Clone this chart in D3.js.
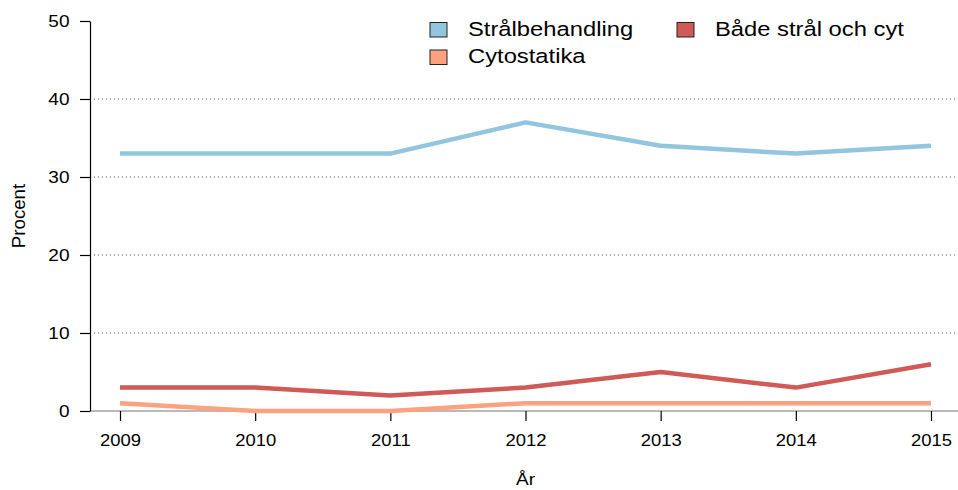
<!DOCTYPE html>
<html>
<head>
<meta charset="utf-8">
<script src="https://cdn.jsdelivr.net/npm/d3@7"></script>
<style>
body { margin: 0; background: #fff; }
svg { font-family: "Liberation Sans", Arial, sans-serif; }
</style>
</head>
<body>
<svg width="958" height="490"></svg>
<script>
var years = [2009, 2010, 2011, 2012, 2013, 2014, 2015];
var stral = [33, 33, 33, 37, 34, 33, 34];
var cyto = [1, 0, 0, 1, 1, 1, 1];
var bada = [3, 3, 2, 3, 5, 3, 6];
var yTicks = [0, 10, 20, 30, 40, 50];

var series = [
  { name: "Strålbehandling", values: stral, color: "#92C5DE" },
  { name: "Cytostatika", values: cyto, color: "#FCA27F" },
  { name: "Både strål och cyt", values: bada, color: "#D05A57" }
];

// text in the original is a bit wider than tall
var sx = 1.12;

var svg = d3.select("svg");

var x = d3.scalePoint().domain(years).range([120, 931]);
var y = d3.scaleLinear().domain([0, 50]).range([411, 21]);

// gridlines
svg.selectAll(".grid")
  .data([10, 20, 30, 40])
  .enter().append("line")
  .attr("x1", 90).attr("x2", 958)
  .attr("y1", function(d) { return y(d); })
  .attr("y2", function(d) { return y(d); })
  .attr("stroke", "#555")
  .attr("stroke-width", 1)
  .attr("stroke-dasharray", "1,3");

// baseline
svg.append("line")
  .attr("x1", 90).attr("x2", 958)
  .attr("y1", y(0)).attr("y2", y(0))
  .attr("stroke", "#777").attr("stroke-width", 1.2);

// y axis
var yAxis = svg.append("g")
  .attr("transform", "translate(90,0)")
  .call(d3.axisLeft(y).tickValues(yTicks).tickSize(10).tickSizeOuter(0));
yAxis.select(".domain").attr("stroke", "#000").attr("stroke-width", 1.2);
yAxis.selectAll(".tick line").attr("stroke", "#000").attr("stroke-width", 1.2);
yAxis.selectAll("text")
  .attr("font-size", 17).attr("fill", "#000")
  .attr("x", -20.5 / sx)
  .attr("transform", "scale(" + sx + ",1)");

// x axis
var xAxis = svg.append("g")
  .attr("transform", "translate(0," + y(0) + ")")
  .call(d3.axisBottom(x).tickSize(10).tickPadding(13));
xAxis.select(".domain").remove();
xAxis.selectAll(".tick line").attr("stroke", "#000").attr("stroke-width", 1.2);
xAxis.selectAll("text")
  .attr("font-size", 16.5).attr("fill", "#000")
  .attr("transform", "scale(" + sx + ",1)");

// axis titles
svg.append("text")
  .attr("transform", "translate(" + x(2012) + ",485) scale(" + sx + ",1)")
  .attr("text-anchor", "middle")
  .attr("font-size", 17)
  .text("År");

svg.append("text")
  .attr("transform", "translate(25," + y(25) + ") rotate(-90) scale(1.1,1.1)")
  .attr("text-anchor", "middle")
  .attr("font-size", 17)
  .text("Procent");

// lines
var line = d3.line()
  .x(function(d, i) { return x(years[i]); })
  .y(function(d) { return y(d); });

svg.selectAll(".series")
  .data(series)
  .enter().append("path")
  .attr("d", function(d) { return line(d.values); })
  .attr("fill", "none")
  .attr("stroke", function(d) { return d.color; })
  .attr("stroke-width", 4.5)
  .attr("stroke-linejoin", "round");

// legend
var legendPos = [[430, 22.5], [430, 50], [677, 22.5]];
var legend = svg.selectAll(".legend")
  .data(series)
  .enter().append("g")
  .attr("transform", function(d, i) { return "translate(" + legendPos[i][0] + "," + legendPos[i][1] + ")"; });

legend.append("rect")
  .attr("width", 17).attr("height", 14.5)
  .attr("fill", function(d) { return d.color; })
  .attr("stroke", "#222").attr("stroke-width", 1);

legend.append("text")
  .attr("transform", "translate(38,13) scale(1.16,1)")
  .attr("font-size", 20.5)
  .text(function(d) { return d.name; });
</script>
</body>
</html>
